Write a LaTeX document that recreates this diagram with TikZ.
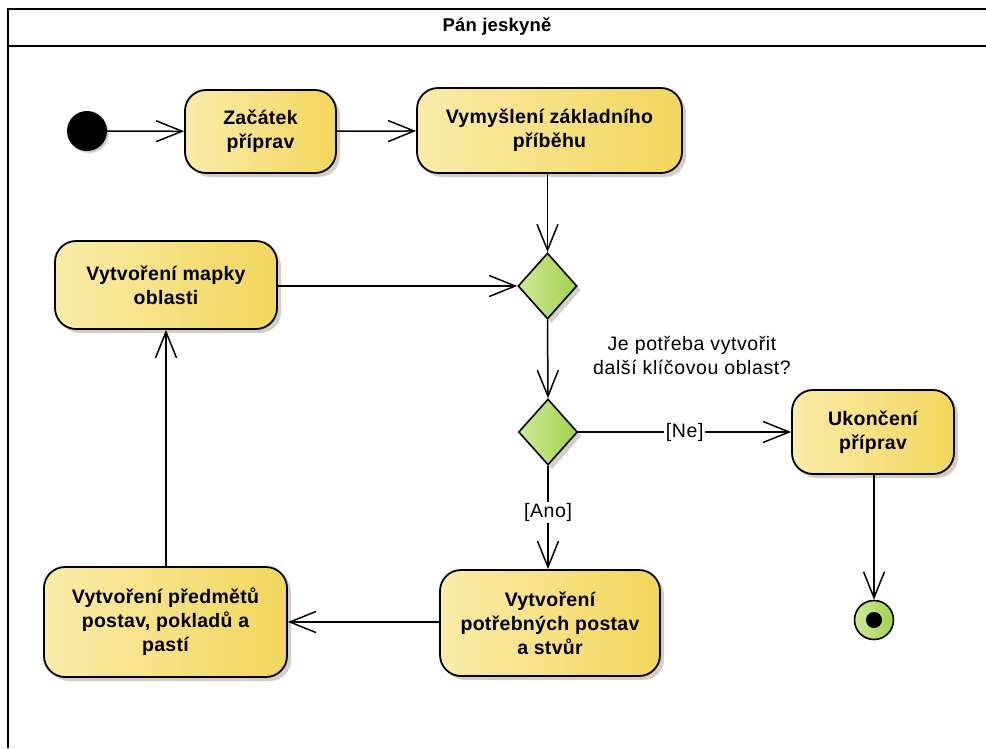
\documentclass[tikz,border=0pt]{standalone}
\usepackage{fontspec}
\setmainfont{Liberation Sans}
\newfontfamily\boxfont[LetterSpace=1.5]{Liberation Sans}
\newfontfamily\notefont[LetterSpace=3]{Liberation Sans}
\newfontfamily\titlefont[LetterSpace=1]{Liberation Sans}
\usetikzlibrary{arrows.meta,shapes.geometric,shadows}

\definecolor{actL}{RGB}{250,236,170}
\definecolor{actR}{RGB}{242,214,92}
\definecolor{decL}{RGB}{206,234,152}
\definecolor{decR}{RGB}{162,210,74}
\definecolor{shadowc}{RGB}{214,206,196}

\begin{document}
\begin{tikzpicture}[x=1pt,y=-1pt,
  boxshadow/.style={drop shadow={shadow xshift=4pt,shadow yshift=-4pt,fill=shadowc,opacity=1}},
  act/.style={draw=black,line width=1.8pt,rounded corners=21pt,
    left color=actL,right color=actR,boxshadow,
    font=\boxfont\fontsize{19.5}{24}\selectfont\bfseries,align=center,inner sep=0pt},
  decision/.style={diamond,draw=black,line width=1.6pt,
    left color=decL,right color=decR,boxshadow,inner sep=0pt,
    minimum width=59pt,minimum height=66pt},
  flow/.style={draw=black,line width=1.5pt,
    -{Straight Barb[length=26pt,width=21pt,line width=1.5pt]}},
  guard/.style={fill=white,inner sep=1.5pt,font=\notefont\fontsize{19.5}{24}\selectfont},
  frame/.style={draw=black,line width=2.4pt}
]
\useasboundingbox (0,0) rectangle (986,748);

% swimlane frame with its title bar
\draw[frame] (8,748) -- (8,9) -- (986,9);
\draw[frame] (8,46) -- (986,46);
\node[font=\titlefont\fontsize{18.5}{20}\selectfont\bfseries] (title) at (497,27) {Pán jeskyně};

% start and end
\node[circle,fill=black,minimum size=40pt,inner sep=0pt,
  drop shadow={shadow xshift=2pt,shadow yshift=-2pt,fill=shadowc,opacity=1}] (start) at (87,131) {};
\node[circle,draw=black,line width=1.6pt,left color=decL,right color=decR,
  minimum size=39pt,inner sep=0pt] (final) at (874,620) {};
\fill[black] (final.center) circle[radius=8pt];

% activities
\node[act,minimum width=151pt,minimum height=83pt] (zacatek) at (260.5,131.5) {Začátek\\příprav};
\node[act,minimum width=265pt,minimum height=85pt] (vymysleni) at (549.5,130.5) {Vymyšlení základního\\příběhu};
\node[act,minimum width=222pt,minimum height=88pt] (mapka) at (166,285) {Vytvoření mapky\\oblasti};
\node[act,minimum width=162pt,minimum height=84pt] (ukonceni) at (873,432) {Ukončení\\příprav};
\node[act,minimum width=243pt,minimum height=110pt] (predmety) at (165.5,622) {Vytvoření předmětů\\postav, pokladů a\\pastí};
\node[act,minimum width=220pt,minimum height=106pt] (postavy) at (550,623) {Vytvoření\\potřebných postav\\a stvůr};

% decisions
\node[decision] (d1) at (547.5,286) {};
\node[decision] (d2) at (548,432) {};
\node[font=\notefont\fontsize{19.5}{24}\selectfont,align=center] (question) at (692,355)
  {Je potřeba vytvořit\\další klíčovou oblast?};

% control flows
\draw[flow] (start) -- (zacatek);
\draw[flow] (zacatek) -- (vymysleni);
\draw[flow] (vymysleni.south -| d1.north) -- (d1.north);
\draw[flow] (mapka.east |- d1.west) -- (d1.west);
\draw[flow] (d1.south) -- (d2.north);
\draw[flow] (d2.east) -- node[guard] {[Ne]} (ukonceni.west |- d2.east);
\draw[flow] (d2.south) -- node[guard,pos=0.45] {[Ano]} (postavy.north -| d2.south);
\draw[flow] (postavy.west |- predmety.east) -- (predmety.east);
\draw[flow] (predmety.north -| mapka.south) -- (mapka.south);
\draw[flow] (ukonceni.south -| final.north) -- (final.north);
\end{tikzpicture}
\end{document}
